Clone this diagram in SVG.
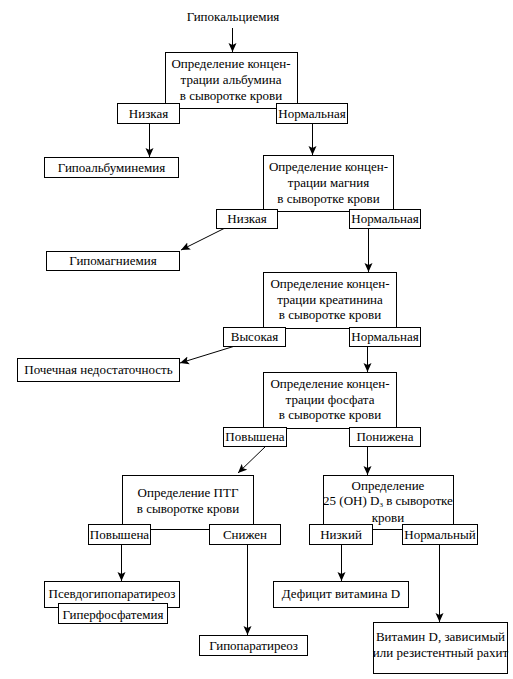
<svg xmlns="http://www.w3.org/2000/svg" width="513" height="679" viewBox="0 0 513 679">
<defs>
<marker id="ah" markerUnits="userSpaceOnUse" markerWidth="10" markerHeight="9" refX="9" refY="4.5" orient="auto">
<path d="M0,0.5 L9,4.5 L0,8.5 L2,4.5 Z" fill="#000"/>
</marker>
<style>
rect{fill:#fff;stroke:#000;stroke-width:1}
text{font-family:"Liberation Serif","Times New Roman",serif;font-size:13px;fill:#000;text-anchor:middle}
.c line{stroke:#000;stroke-width:1;marker-end:url(#ah)}
</style>
</defs>
<rect x="0" y="0" width="513" height="679" style="fill:#fff;stroke:none"/>
<g id="start"><text x="233" y="21">Гипокальциемия</text></g>
<g class="c" id="connectors">
<line x1="232.5" y1="28" x2="232.5" y2="52"/>
<line x1="149.5" y1="123" x2="149.5" y2="157"/>
<line x1="312.5" y1="123" x2="312.5" y2="155"/>
<line x1="225" y1="228" x2="181" y2="250"/>
<line x1="368.5" y1="228" x2="368.5" y2="272"/>
<line x1="235" y1="346" x2="180" y2="363"/>
<line x1="367.5" y1="346" x2="367.5" y2="372"/>
<line x1="266" y1="446" x2="238" y2="473"/>
<line x1="367.5" y1="446" x2="367.5" y2="475"/>
<line x1="121.5" y1="544" x2="121.5" y2="581"/>
<line x1="247.5" y1="544" x2="247.5" y2="635"/>
<line x1="341.5" y1="544" x2="341.5" y2="581"/>
<line x1="439.5" y1="544" x2="439.5" y2="622"/>
</g>
<g id="n1"><rect x="165.5" y="52.5" width="132" height="56"/>
<text x="231" y="68">Определение концен-</text><text x="231" y="84">трации альбумина</text><text x="231" y="100">в сыворотке крови</text></g>
<g id="n1low"><rect x="117.5" y="103.5" width="62" height="20"/><text x="148.5" y="118">Низкая</text></g>
<g id="n1norm"><rect x="276.5" y="103.5" width="71" height="20"/><text x="312" y="118">Нормальная</text></g>
<g id="hypoalb"><rect x="44.5" y="157.5" width="134" height="20"/><text x="111.5" y="172">Гипоальбуминемия</text></g>
<g id="n2"><rect x="263.5" y="155.5" width="130" height="56"/>
<text x="328.5" y="171">Определение концен-</text><text x="328.5" y="187">трации магния</text><text x="328.5" y="203">в сыворотке крови</text></g>
<g id="n2low"><rect x="216.5" y="209.5" width="61" height="19"/><text x="247" y="223">Низкая</text></g>
<g id="n2norm"><rect x="349.5" y="209.5" width="71" height="19"/><text x="385" y="223">Нормальная</text></g>
<g id="hypomag"><rect x="46.5" y="251.5" width="133" height="19"/><text x="113" y="265">Гипомагниемия</text></g>
<g id="n3"><rect x="263.5" y="272.5" width="133" height="56"/>
<text x="330" y="288">Определение концен-</text><text x="330" y="304">трации креатинина</text><text x="330" y="319">в сыворотке крови</text></g>
<g id="n3high"><rect x="223.5" y="327.5" width="62" height="19"/><text x="254.5" y="341">Высокая</text></g>
<g id="n3norm"><rect x="349.5" y="327.5" width="71" height="19"/><text x="385" y="341">Нормальная</text></g>
<g id="renal"><rect x="17.5" y="358.5" width="162" height="23"/><text x="98.5" y="374">Почечная недостаточность</text></g>
<g id="n4"><rect x="263.5" y="372.5" width="133" height="56"/>
<text x="330" y="388">Определение концен-</text><text x="330" y="404">трации фосфата</text><text x="330" y="419">в сыворотке крови</text></g>
<g id="n4high"><rect x="223.5" y="427.5" width="63" height="19"/><text x="255" y="441">Повышена</text></g>
<g id="n4low"><rect x="349.5" y="427.5" width="71" height="19"/><text x="385" y="441">Понижена</text></g>
<g id="pth"><rect x="122.5" y="475.5" width="131" height="54"/>
<text x="188" y="497">Определение ПТГ</text><text x="188" y="513">в сыворотке крови</text></g>
<g id="vitd"><rect x="323.5" y="475.5" width="130" height="54"/>
<text x="388" y="490">Определение</text><text x="388" y="505">25 (OH) D<tspan font-size="7" dy="2">3</tspan><tspan dy="-2"> в сыворотке</tspan></text><text x="388" y="522">крови</text></g>
<g id="pthhigh"><rect x="88.5" y="524.5" width="62" height="20"/><text x="119.5" y="539">Повышена</text></g>
<g id="pthlow"><rect x="209.5" y="524.5" width="71" height="20"/><text x="245" y="539">Снижен</text></g>
<g id="vitdlow"><rect x="309.5" y="524.5" width="63" height="20"/><text x="341" y="539">Низкий</text></g>
<g id="vitdnorm"><rect x="402.5" y="524.5" width="75" height="20"/><text x="440" y="539">Нормальный</text></g>
<g id="pseudo"><rect x="44.5" y="581.5" width="135" height="26"/><text x="112" y="598">Псевдогипопаратиреоз</text></g>
<g id="hyperphos"><rect x="58.5" y="603.5" width="109" height="20"/><text x="113" y="619">Гиперфосфатемия</text></g>
<g id="hypopara"><rect x="199.5" y="635.5" width="108" height="20"/><text x="253.5" y="650">Гипопаратиреоз</text></g>
<g id="vitddef"><rect x="273.5" y="581.5" width="135" height="26"/><text x="341" y="598">Дефицит витамина D</text></g>
<g id="rickets"><rect x="373.5" y="622.5" width="134" height="51"/>
<text x="440.5" y="641">Витамин D, зависимый</text><text x="440.5" y="657">или резистентный рахит</text></g>
</svg>
